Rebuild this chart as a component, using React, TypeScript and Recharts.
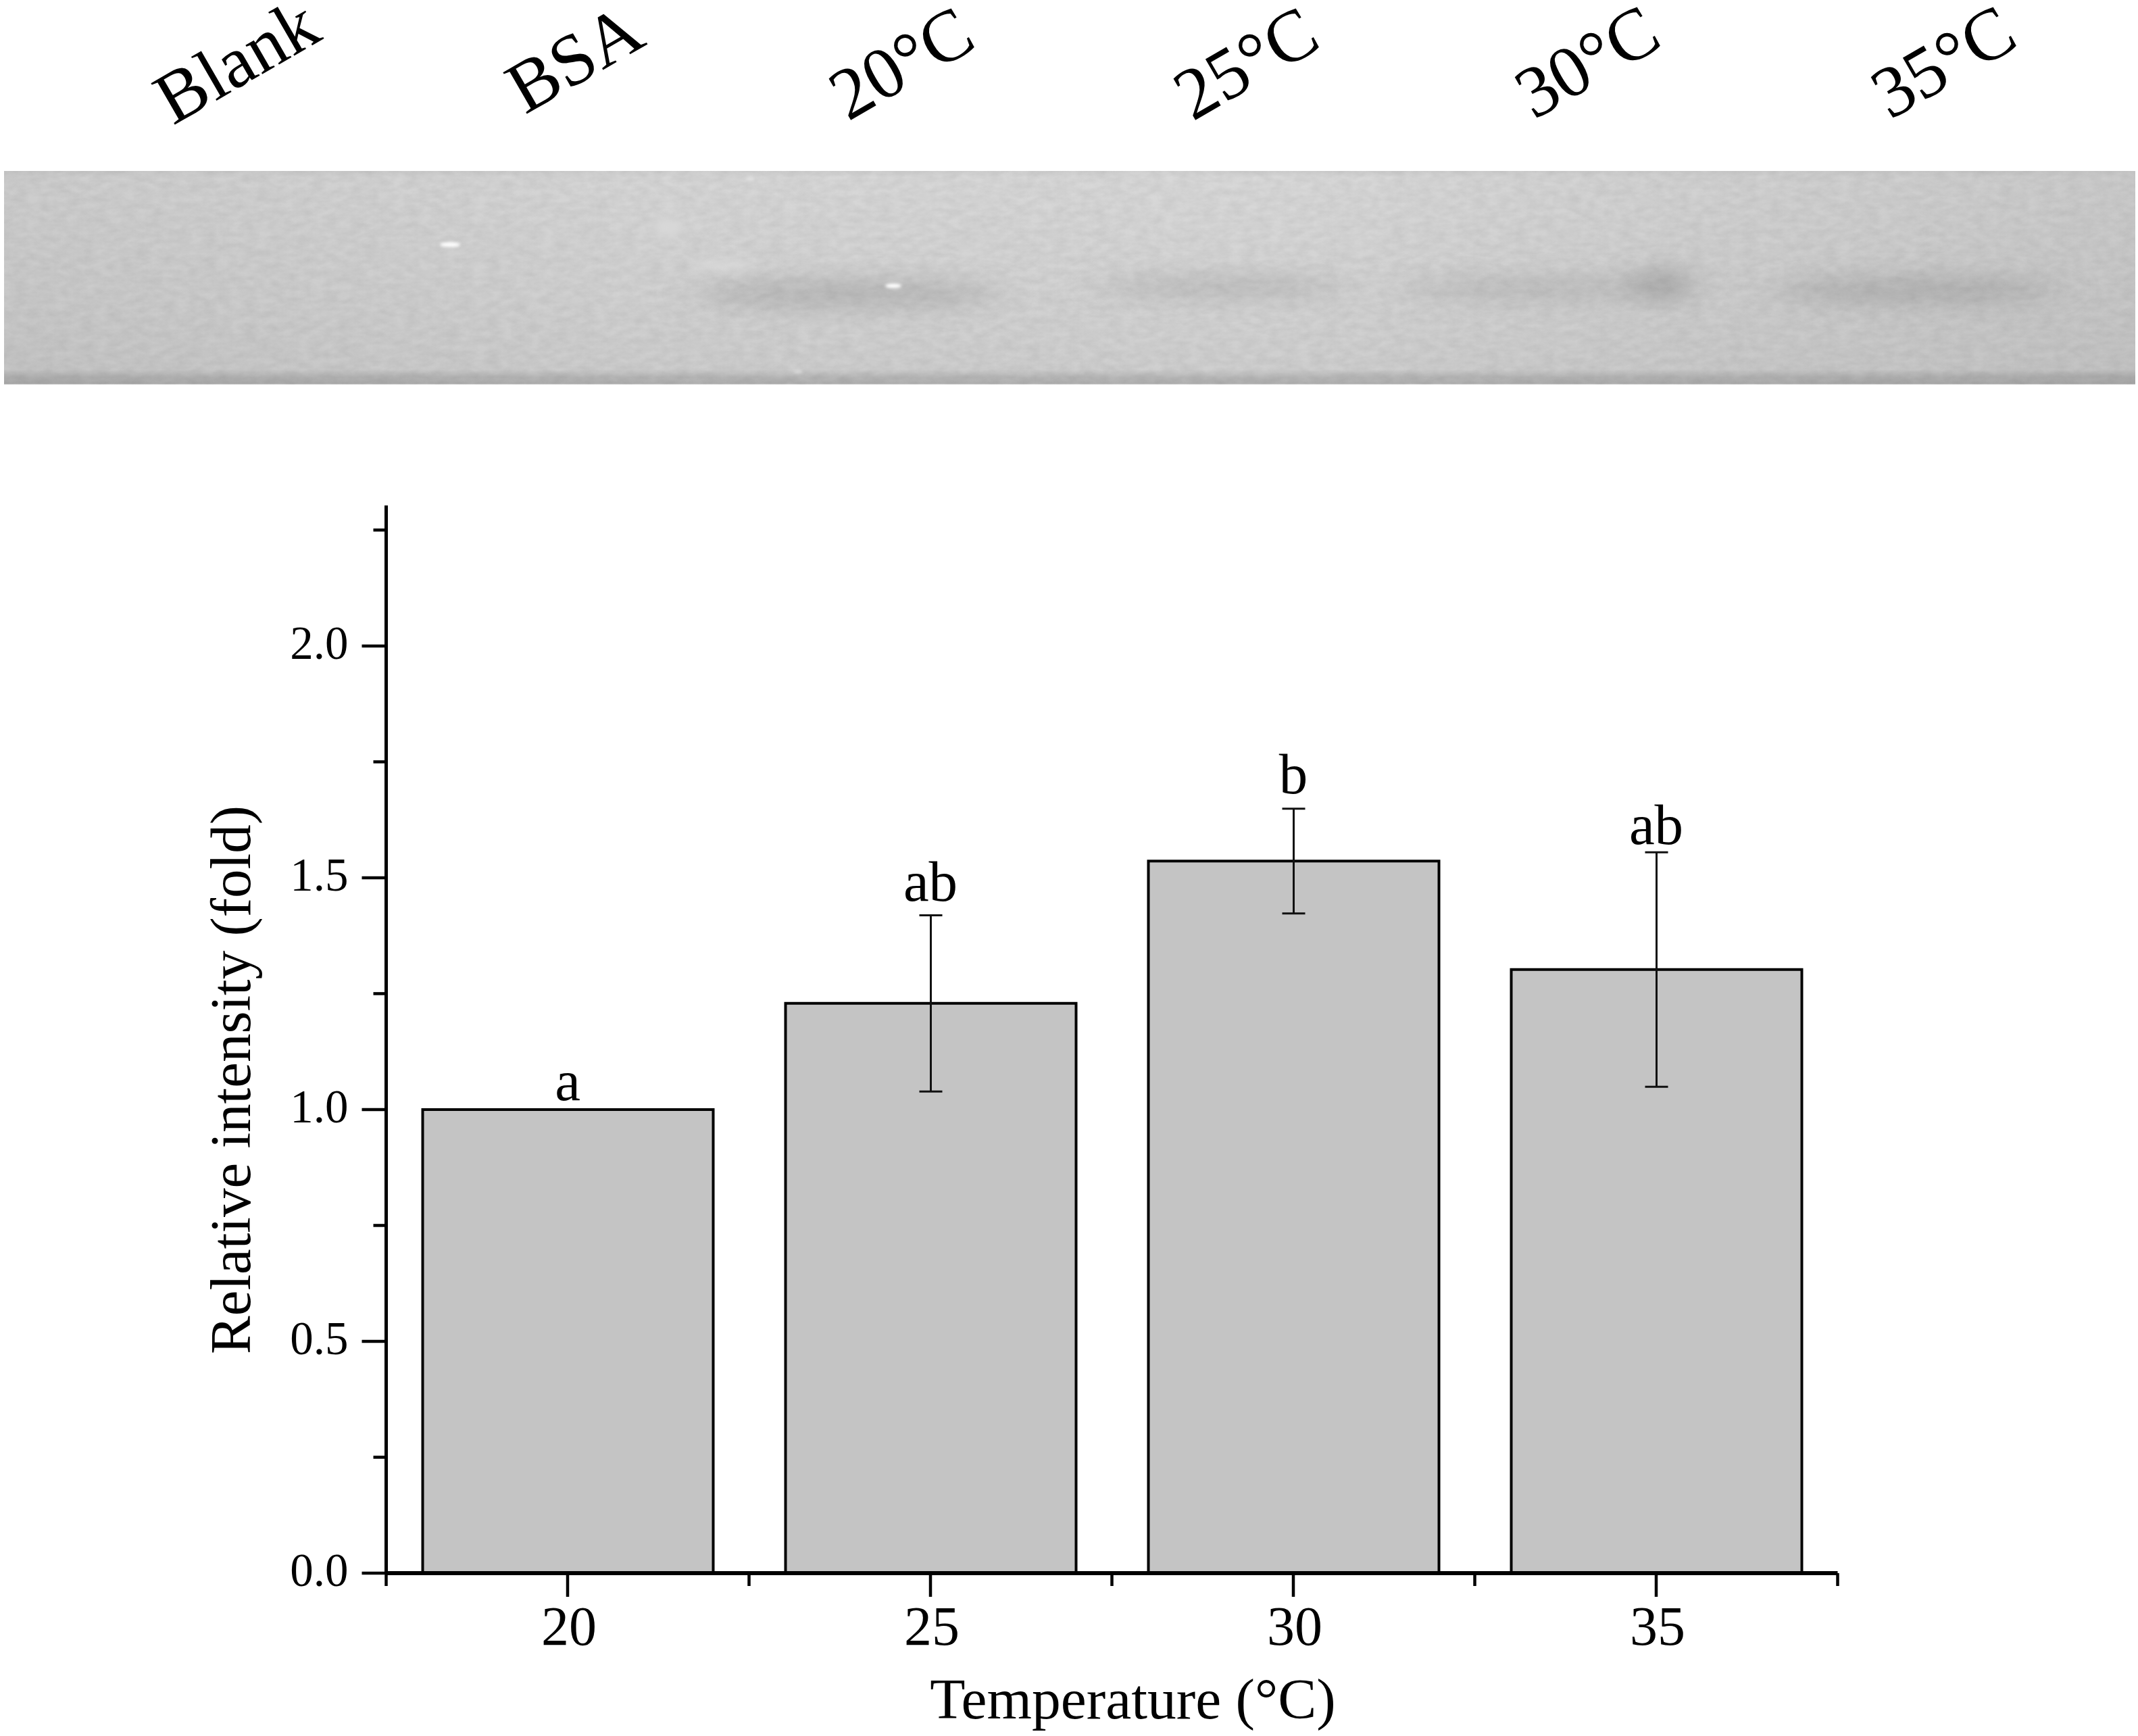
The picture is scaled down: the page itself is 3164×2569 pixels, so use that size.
import { Bar, ComposedChart, ErrorBar, Label, LabelList, Line, XAxis, YAxis } from 'recharts';

const temperatures = [20, 25, 30, 35];
const intensity = [1.0, 1.229, 1.536, 1.302];
const sdev = [0, 0.19, 0.113, 0.253];
const letters = ['a', 'ab', 'b', 'ab'];
// baseline height of each significance letter, in y axis units
const letterHeights = [1.02, 1.45, 1.682, 1.573];

const xTicks = [17.5, 20, 22.5, 25, 27.5, 30, 32.5, 35, 37.5];
const xMajor = [20, 25, 30, 35];
const yTicks = [0, 0.25, 0.5, 0.75, 1, 1.25, 1.5, 1.75, 2, 2.25];
const yMajor = [0, 0.5, 1, 1.5, 2];

const laneLabels = ['Blank', 'BSA', '20°C', '25°C', '30°C', '35°C'];
const laneAnchors = [[256, 186], [777, 170], [1255, 180], [1765, 180], [2270, 178], [2797, 178]];

const data = temperatures.map((t, i) => ({
  temperature: t,
  intensity: intensity[i],
  sdev: sdev[i],
  letter: letters[i],
  letterHeight: letterHeights[i],
}));

const FONT = '"Liberation Serif", serif';

const XTick = ({ x, y, payload }: any) => {
  const major = xMajor.includes(payload.value);
  return (
    <g>
      <line x1={x} x2={x} y1={y} y2={y + (major ? 35 : 19)} stroke="#000" strokeWidth={4.5} />
      {major && (
        <text x={x + 2} y={y + 106} textAnchor="middle" fontFamily={FONT} fontSize={82} fill="#000">
          {payload.value}
        </text>
      )}
    </g>
  );
};

const YTick = ({ x, y, payload }: any) => {
  const major = yMajor.includes(payload.value);
  return (
    <g>
      <line x1={x} x2={x - (major ? 36 : 19)} y1={y} y2={y} stroke="#000" strokeWidth={4.5} />
      {major && (
        <text x={x - 56} y={y + 19} textAnchor="end" fontFamily={FONT} fontSize={69} fill="#000">
          {payload.value.toFixed(1)}
        </text>
      )}
    </g>
  );
};

// gel strip above the chart
const GelStrip = () => (
  <g>
    <defs>
      <linearGradient id="gelBase" x1="0" y1="0" x2="0" y2="1">
        <stop offset="0" stopColor="#d0d0d0" />
        <stop offset="0.03" stopColor="#d8d8d8" />
        <stop offset="0.6" stopColor="#d3d3d3" />
        <stop offset="0.93" stopColor="#cfcfcf" />
        <stop offset="0.965" stopColor="#b8b8b8" />
        <stop offset="0.995" stopColor="#b2b2b2" />
        <stop offset="1" stopColor="#d8d8d8" />
      </linearGradient>
      <linearGradient id="gelSides" x1="0" y1="0" x2="1" y2="0">
        <stop offset="0" stopColor="#000" stopOpacity={0.05} />
        <stop offset="0.3" stopColor="#000" stopOpacity={0.01} />
        <stop offset="0.6" stopColor="#000" stopOpacity={0} />
        <stop offset="1" stopColor="#000" stopOpacity={0.06} />
      </linearGradient>
      <filter id="gelGrain" x="0" y="0" width="100%" height="100%" colorInterpolationFilters="sRGB">
        <feTurbulence type="fractalNoise" baseFrequency="0.05 0.1" numOctaves={3} seed={4} />
        <feColorMatrix values="0 0 0 0 0  0 0 0 0 0  0 0 0 0 0  0.09 0 0 0 -0.02" />
      </filter>
      <filter id="soft" x="-40%" y="-300%" width="180%" height="700%">
        <feGaussianBlur stdDeviation="30 16" />
      </filter>
      <filter id="softer" x="-50%" y="-100%" width="200%" height="300%">
        <feGaussianBlur stdDeviation="2" />
      </filter>
      <filter id="softest" x="-100%" y="-100%" width="300%" height="300%">
        <feGaussianBlur stdDeviation="7" />
      </filter>
    </defs>
    <rect x={6} y={253} width={3154} height={316} fill="url(#gelBase)" />
    <g filter="url(#soft)">
      <ellipse cx={1255} cy={435} rx={225} ry={22} fill="#bababa" />
      <ellipse cx={1811} cy={425} rx={185} ry={17} fill="#bebebe" />
      <ellipse cx={2265} cy={427} rx={195} ry={15} fill="#bebebe" />
      <ellipse cx={2459} cy={422} rx={36} ry={24} fill="#a4a4a4" />
      <ellipse cx={2835} cy={430} rx={210} ry={20} fill="#bababa" />
    </g>
    <rect x={6} y={253} width={3154} height={316} fill="url(#gelSides)" />
    <rect x={6} y={253} width={3154} height={316} filter="url(#gelGrain)" />
    <g filter="url(#softest)">
      <ellipse cx={989} cy={337} rx={22} ry={14} fill="#d8d8d8" />
      <ellipse cx={1069} cy={392} rx={50} ry={6} fill="#dadada" />
    </g>
    <g filter="url(#softer)" fill="#fff">
      <ellipse cx={666} cy={362} rx={15} ry={3.5} />
      <ellipse cx={1322} cy={423} rx={12} ry={3.5} />
      <ellipse cx={1110} cy={265} rx={7} ry={2} fill="#e4e4e4" />
      <ellipse cx={1181} cy={550} rx={7} ry={2} fill="#e0e0e0" />
    </g>
    {laneLabels.map((label, i) => (
      <text
        key={label}
        transform={`translate(${laneAnchors[i][0]} ${laneAnchors[i][1]}) rotate(-30)`}
        fontFamily={FONT}
        fontSize={108}
        fill="#000"
      >
        {label}
      </text>
    ))}
  </g>
);

export default function App() {
  return (
    <div style={{ position: 'absolute', left: 0, top: 0, background: '#fff' }}>
      <ComposedChart
        width={3164}
        height={2569}
        data={data}
        margin={{ top: 748, right: 444.5, bottom: 41, left: 171.5 }}
      >
        <GelStrip />
        <XAxis
          dataKey="temperature"
          type="number"
          domain={[17.5, 37.5]}
          allowDataOverflow
          ticks={xTicks}
          interval={0}
          height={200}
          tickLine={false}
          tickSize={0}
          tickMargin={0}
          tick={<XTick />}
          axisLine={{ stroke: '#000', strokeWidth: 6 }}
        >
          <Label
            value="Temperature (°C)"
            position="insideBottom"
            offset={-15}
            dx={31}
            fontFamily={FONT}
            fontSize={85.5}
            fill="#000"
          />
        </XAxis>
        <YAxis
          type="number"
          domain={[0, 2.303]}
          allowDataOverflow
          ticks={yTicks}
          interval={0}
          width={400}
          tickLine={false}
          tickSize={0}
          tickMargin={0}
          tick={<YTick />}
          axisLine={{ stroke: '#000', strokeWidth: 5 }}
        >
          <Label
            value="Relative intensity (fold)"
            position="center"
            angle={-90}
            dx={-32}
            dy={60}
            fontFamily={FONT}
            fontSize={85}
            fill="#000"
          />
        </YAxis>
        <Bar
          dataKey="intensity"
          barSize={430}
          fill="#c4c4c4"
          stroke="#000"
          strokeWidth={4}
          isAnimationActive={false}
        >
          <ErrorBar dataKey="sdev" width={17} stroke="#111" strokeWidth={3} isAnimationActive={false} />
        </Bar>
        <Line
          dataKey="letterHeight"
          stroke="none"
          dot={false}
          activeDot={false}
          legendType="none"
          isAnimationActive={false}
        >
          <LabelList dataKey="letter" position="top" offset={0} fontFamily={FONT} fontSize={85} fill="#000" />
        </Line>
      </ComposedChart>
    </div>
  );
}
